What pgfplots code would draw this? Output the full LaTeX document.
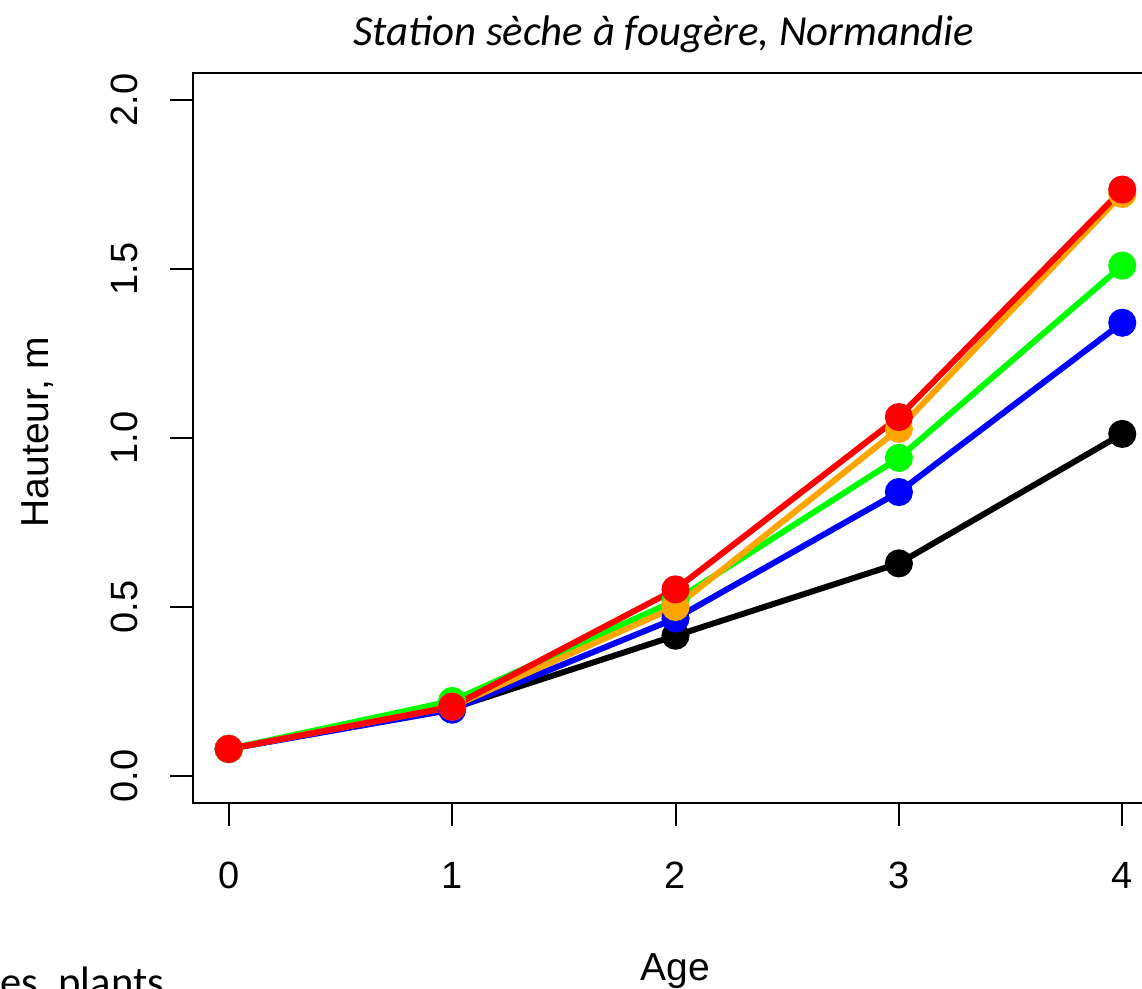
\documentclass[border=0pt]{standalone}
\usepackage{fontspec}
\setmainfont{Liberation Sans}
\newfontfamily\carlito{Carlito}
\usepackage{pgfplots}
\pgfplotsset{compat=1.18}
\definecolor{rorange}{RGB}{255,165,0}
\definecolor{rgreen}{RGB}{0,255,0}
\definecolor{rblue}{RGB}{0,0,255}
\definecolor{rred}{RGB}{255,0,0}
\begin{document}
\begin{tikzpicture}
\path[use as bounding box, clip] (0pt,0pt) rectangle (571pt,494.5pt);
\node[anchor=base west, inner sep=0pt, font=\carlito\fontsize{21.3}{24}\selectfont] at (0pt,-4pt) {es, plants};
\begin{axis}[
  at={(96.5pt,93pt)}, anchor=south west,
  scale only axis, width=482.5pt, height=365pt,
  xmin=-0.16, xmax=4.16, ymin=-0.08, ymax=2.08,
  axis line style={line width=1pt},
  tick style={line width=1pt, black},
  tick align=outside, major tick length=11.5pt,
  xtick={0,1,2,3,4}, ytick={0,0.5,1,1.5,2},
  xtick pos=bottom, ytick pos=left,
  /pgf/number format/assume math mode=true,
  tick label style={font=\fontsize{19}{21}\selectfont},
  yticklabel={\pgfmathprintnumber[fixed,fixed zerofill,precision=1]{\tick}},
  yticklabel style={rotate=90, anchor=south, yshift=12.5pt},
  xticklabel style={anchor=north, yshift=-14.5pt},
  xlabel={Age},
  ylabel={Hauteur, m},
  label style={font=\fontsize{19.5}{22}\selectfont},
  xlabel style={at={(axis description cs:0.5,0)}, anchor=center, yshift=-84pt},
  ylabel style={at={(axis description cs:0,0.5)}, anchor=center, yshift=77.5pt, xshift=3pt},
  title={Station sèche à fougère, Normandie},
  title style={font=\carlito\itshape\fontsize{21.4}{24}\selectfont, at={(axis description cs:0.5,1)}, anchor=center, yshift=13.5pt, xshift=-6pt},
  every axis plot/.append style={line width=3pt, mark=*, mark size=5.5pt},
]
\addplot[black, mark options={fill=black}] coordinates {(0,0.08) (1,0.20) (2,0.415) (3,0.629) (4,1.012)};
\addplot[rblue, mark options={fill=rblue}] coordinates {(0,0.08) (1,0.196) (2,0.466) (3,0.840) (4,1.341)};
\addplot[rgreen, mark options={fill=rgreen}] coordinates {(0,0.08) (1,0.222) (2,0.519) (3,0.941) (4,1.510)};
\addplot[rorange, mark options={fill=rorange}] coordinates {(0,0.08) (1,0.205) (2,0.50) (3,1.027) (4,1.722)};
\addplot[rred, mark options={fill=rred}] coordinates {(0,0.08) (1,0.205) (2,0.552) (3,1.062) (4,1.735)};
\end{axis}
\end{tikzpicture}
\end{document}
